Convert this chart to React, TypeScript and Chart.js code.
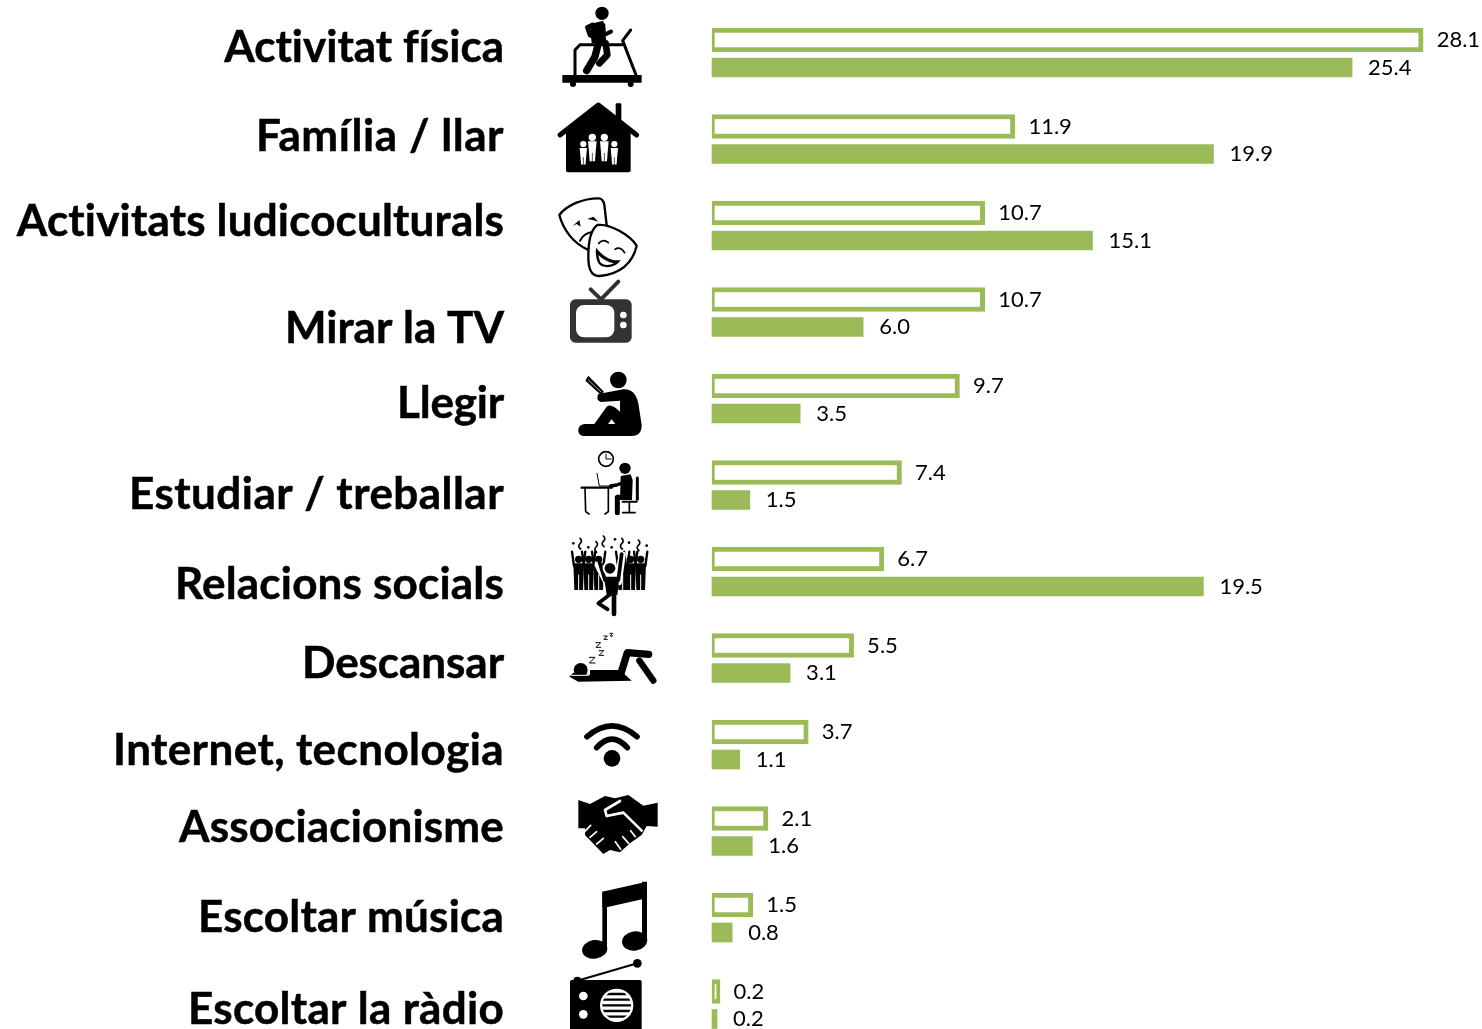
import React, { useEffect, useRef } from "react";
import { Chart, registerables } from "chart.js";

Chart.register(...registerables);

const categories = [
  "Activitat física", "Família / llar", "Activitats ludicoculturals", "Mirar la TV",
  "Llegir", "Estudiar / treballar", "Relacions socials", "Descansar",
  "Internet, tecnologia", "Associacionisme", "Escoltar música", "Escoltar la ràdio",
];
const outlinedValues = [28.1, 11.9, 10.7, 10.7, 9.7, 7.4, 6.7, 5.5, 3.7, 2.1, 1.5, 0.2];
const filledValues = [25.4, 19.9, 15.1, 6.0, 3.5, 1.5, 19.5, 3.1, 1.1, 1.6, 0.8, 0.2];
const GREEN = "#9BBB59";

// Layout of the left-hand text column (the labels do not sit exactly on their rows)
const labelShifts = [-4, -2, -3, 17, 6, 10, 14, 6, 7, -3, 1, 6];
const labelWidths = [280, 248, 488, 219, 107, 375, 329, 202, 391, 325, 306, 316];

type Ctx = CanvasRenderingContext2D;
type Pt = [number, number];

function poly(c: Ctx, pts: Pt[]) {
  c.beginPath();
  pts.forEach((p, i) => (i ? c.lineTo(p[0], p[1]) : c.moveTo(p[0], p[1])));
}
function line(c: Ctx, pts: Pt[], w: number, col = "#000") {
  poly(c, pts);
  c.lineWidth = w;
  c.strokeStyle = col;
  c.lineCap = "round";
  c.lineJoin = "round";
  c.stroke();
}
function fillPoly(c: Ctx, pts: Pt[], col = "#000") {
  poly(c, pts);
  c.closePath();
  c.fillStyle = col;
  c.fill();
}
function dot(c: Ctx, x: number, y: number, r: number, col = "#000") {
  c.beginPath();
  c.arc(x, y, r, 0, Math.PI * 2);
  c.fillStyle = col;
  c.fill();
}
function rrect(c: Ctx, x: number, y: number, w: number, h: number, r: number, col = "#000") {
  c.beginPath();
  c.roundRect(x, y, w, h, r);
  c.fillStyle = col;
  c.fill();
}

function treadmill(c: Ctx) {
  dot(c, 186, 40, 20);
  fillPoly(c, [[150, 72], [190, 62], [200, 130], [155, 130]]);
  line(c, [[158, 75], [142, 82], [150, 105], [175, 118]], 14);
  line(c, [[190, 75], [192, 105], [213, 95]], 12);
  line(c, [[175, 130], [165, 170], [140, 212]], 22);
  line(c, [[197, 130], [202, 165], [178, 190]], 20);
  line(c, [[105, 225], [105, 150], [120, 134], [245, 134]], 9);
  line(c, [[288, 225], [248, 122], [272, 90]], 9);
  rrect(c, 67, 225, 238, 23, 1);
  dot(c, 99, 252, 9);
  dot(c, 272, 252, 9);
}
function house(c: Ctx) {
  rrect(c, 227, 310, 17, 60, 3);
  fillPoly(c, [[80, 400], [175, 315], [270, 400]]);
  line(c, [[60, 405], [175, 315], [290, 405]], 15);
  rrect(c, 78, 385, 194, 132, 6);
  ([[130, 432, 0.85], [157, 412, 1], [193, 412, 1], [223, 432, 0.85]] as number[][]).forEach(([x, y, s]) => {
    dot(c, x, y, 11 * s, "#fff");
    fillPoly(c, [[x - 13 * s, y + 12], [x + 13 * s, y + 12], [x + 10 * s, y + 45 * s], [x + 8 * s, y + 72 * s], [x - 8 * s, y + 72 * s], [x - 10 * s, y + 45 * s]], "#fff");
    line(c, [[x, y + 48 * s], [x, y + 72 * s]], 2, "#000");
  });
}
function masks(c: Ctx) {
  c.lineJoin = "round";
  c.lineCap = "round";
  c.lineWidth = 7;
  c.strokeStyle = "#000";
  c.fillStyle = "#fff";
  c.beginPath();
  c.moveTo(58, 105);
  c.bezierCurveTo(80, 75, 130, 55, 175, 55);
  c.quadraticCurveTo(190, 55, 193, 75);
  c.lineTo(200, 135);
  c.lineTo(145, 210);
  c.bezierCurveTo(100, 190, 70, 150, 58, 105);
  c.closePath();
  c.fill();
  c.stroke();
  fillPoly(c, [[98, 138], [118, 120], [122, 140], [110, 132]]);
  fillPoly(c, [[142, 117], [160, 110], [175, 125], [158, 120]]);
  c.beginPath();
  c.moveTo(120, 182);
  c.quadraticCurveTo(135, 155, 162, 157);
  c.lineWidth = 6;
  c.stroke();
  c.beginPath();
  c.moveTo(172, 135);
  c.bezierCurveTo(210, 130, 270, 165, 290, 197);
  c.bezierCurveTo(280, 240, 250, 280, 180, 288);
  c.bezierCurveTo(150, 290, 145, 260, 145, 230);
  c.bezierCurveTo(145, 190, 150, 150, 172, 135);
  c.closePath();
  c.lineWidth = 7;
  c.fillStyle = "#fff";
  c.fill();
  c.stroke();
  c.lineWidth = 5;
  c.beginPath();
  c.moveTo(176, 190);
  c.quadraticCurveTo(190, 175, 205, 188);
  c.moveTo(225, 208);
  c.quadraticCurveTo(240, 198, 254, 218);
  c.stroke();
  c.beginPath();
  c.moveTo(168, 203);
  c.bezierCurveTo(190, 230, 215, 245, 242, 240);
  c.bezierCurveTo(230, 262, 190, 270, 175, 250);
  c.quadraticCurveTo(165, 230, 168, 203);
  c.closePath();
  c.fillStyle = "#000";
  c.fill();
  c.beginPath();
  c.moveTo(175, 225);
  c.quadraticCurveTo(195, 245, 222, 250);
  c.quadraticCurveTo(195, 262, 180, 245);
  c.closePath();
  c.fillStyle = "#fff";
  c.fill();
}
function tv(c: Ctx) {
  const col = "#333";
  line(c, [[152, 328], [183, 358], [235, 305]], 12, col);
  rrect(c, 90, 358, 185, 130, 16, col);
  rrect(c, 108, 375, 115, 97, 24, "#fff");
  dot(c, 250, 405, 10, "#fff");
  dot(c, 250, 435, 10, "#fff");
}
function reader(c: Ctx) {
  dot(c, 235, 60, 25);
  c.beginPath();
  c.moveTo(250, 88);
  c.quadraticCurveTo(285, 85, 295, 130);
  c.lineTo(305, 195);
  c.quadraticCurveTo(305, 228, 275, 228);
  c.lineTo(130, 228);
  c.quadraticCurveTo(113, 225, 115, 208);
  c.quadraticCurveTo(118, 193, 135, 192);
  c.lineTo(163, 192);
  c.lineTo(200, 140);
  c.quadraticCurveTo(212, 128, 240, 155);
  c.lineTo(240, 122);
  c.lineTo(182, 126);
  c.quadraticCurveTo(166, 118, 175, 102);
  c.closePath();
  c.fillStyle = "#000";
  c.fill();
  fillPoly(c, [[204, 192], [226, 192], [215, 178]], "#fff");
  fillPoly(c, [[136, 62], [145, 47], [192, 95], [183, 105]]);
  line(c, [[145, 60], [183, 96]], 2, "#fff");
}
function desk(c: Ctx) {
  c.beginPath();
  c.arc(198, 297, 22, 0, Math.PI * 2);
  c.lineWidth = 5;
  c.strokeStyle = "#000";
  c.stroke();
  line(c, [[198, 282], [198, 297], [214, 297]], 3);
  dot(c, 255, 325, 17);
  fillPoly(c, [[242, 348], [272, 343], [278, 360], [276, 420], [240, 420]]);
  line(c, [[268, 362], [230, 375], [212, 378]], 10);
  line(c, [[250, 412], [232, 412], [232, 458]], 15);
  line(c, [[292, 354], [292, 418]], 9);
  line(c, [[248, 425], [290, 425]], 6);
  line(c, [[268, 425], [268, 456]], 5);
  line(c, [[248, 458], [285, 458]], 5);
  line(c, [[125, 383], [215, 383]], 7);
  line(c, [[135, 385], [137, 455], [147, 462]], 5);
  line(c, [[205, 385], [205, 455], [195, 462]], 5);
  line(c, [[171, 340], [178, 378], [210, 378]], 3);
}
function crowd(c: Ctx) {
  [116, 146, 176, 248, 272, 302].forEach((x) => {
    dot(c, x, 88, 11);
    fillPoly(c, [[x - 16, 100], [x + 16, 100], [x + 13, 180], [x - 13, 180]]);
    line(c, [[x, 135], [x, 182]], 3, "#fff");
    line(c, [[x - 14, 108], [x - 20, 65]], 7);
    line(c, [[x + 14, 108], [x + 20, 65]], 7);
  });
  line(c, [[175, 105], [200, 155], [235, 155], [246, 75]], 22, "#fff");
  line(c, [[178, 95], [195, 150]], 11);
  line(c, [[245, 72], [235, 150]], 11);
  dot(c, 210, 115, 22, "#fff");
  dot(c, 210, 115, 16);
  fillPoly(c, [[192, 140], [238, 140], [232, 195], [200, 195]]);
  line(c, [[212, 192], [175, 220], [203, 238]], 11);
  line(c, [[222, 190], [222, 252]], 14);
  ([[120, 25], [168, 35], [190, 18], [245, 25], [295, 30]] as Pt[]).forEach(([x, y]) => {
    c.beginPath();
    c.moveTo(x, y);
    c.quadraticCurveTo(x + 9, y + 8, x, y + 16);
    c.quadraticCurveTo(x - 8, y + 24, x + 2, y + 32);
    c.lineWidth = 5;
    c.strokeStyle = "#000";
    c.stroke();
  });
  ([[100, 40], [145, 52], [215, 52], [225, 28], [267, 38], [320, 47]] as Pt[]).forEach(([x, y]) => dot(c, x, y, 4));
}
function sleeper(c: Ctx) {
  dot(c, 122, 420, 21);
  fillPoly(c, [[150, 420], [240, 420], [275, 452], [115, 455], [88, 440], [100, 428], [150, 435]]);
  line(c, [[95, 436], [145, 436]], 3, "#fff");
  line(c, [[240, 440], [262, 368], [326, 373]], 22);
  line(c, [[298, 392], [340, 452]], 19);
  const z = (x: number, y: number, s: number) =>
    line(c, [[x, y], [x + s, y], [x, y + s], [x + s, y + s]], 3);
  z(148, 382, 17);
  z(177, 362, 14);
  z(168, 338, 14);
  z(192, 318, 10);
  z(210, 310, 8);
}
function wifi(c: Ctx) {
  c.lineWidth = 17;
  c.lineCap = "round";
  c.strokeStyle = "#000";
  c.beginPath();
  c.moveTo(141, 110);
  c.quadraticCurveTo(216, 45, 291, 110);
  c.moveTo(170, 143);
  c.quadraticCurveTo(216, 92, 262, 143);
  c.stroke();
  dot(c, 216, 175, 25);
}
function handshake(c: Ctx) {
  fillPoly(c, [[115, 300], [150, 312], [195, 288], [225, 295], [265, 285], [310, 317], [353, 308], [353, 380], [320, 378], [305, 405], [270, 430], [240, 457], [210, 450], [190, 462], [135, 405], [135, 385], [115, 385]]);
  line(c, [[240, 303], [195, 330], [200, 348], [250, 338], [305, 392]], 8, "#fff");
  line(c, [[272, 392], [286, 410]], 5, "#fff");
  line(c, [[248, 410], [266, 430]], 5, "#fff");
  line(c, [[226, 425], [242, 448]], 5, "#fff");
  line(c, [[152, 376], [134, 395]], 5, "#fff");
  line(c, [[170, 395], [150, 412]], 5, "#fff");
  line(c, [[190, 415], [170, 432]], 5, "#fff");
}
function music(c: Ctx) {
  fillPoly(c, [[187, 65], [320, 35], [320, 85], [200, 112], [187, 112]]);
  rrect(c, 187, 65, 14, 170, 1);
  rrect(c, 306, 35, 15, 180, 1);
  c.fillStyle = "#000";
  c.beginPath();
  c.ellipse(164, 238, 38, 28, -0.15, 0, Math.PI * 2);
  c.fill();
  c.beginPath();
  c.ellipse(284, 213, 38, 29, -0.15, 0, Math.PI * 2);
  c.fill();
}
function radio(c: Ctx) {
  line(c, [[112, 332], [292, 280]], 6);
  dot(c, 292, 280, 13);
  dot(c, 112, 332, 12);
  rrect(c, 90, 330, 215, 160, 5);
  dot(c, 130, 378, 13, "#fff");
  dot(c, 130, 433, 13, "#fff");
  dot(c, 230, 406, 50, "#fff");
  c.save();
  c.beginPath();
  c.arc(230, 406, 43, 0, Math.PI * 2);
  c.clip();
  [372, 389, 406, 423, 440].forEach((y) => line(c, [[170, y], [290, y]], 7));
  c.restore();
}

const iconDrawers: [(c: Ctx) => void, number][] = [
  [treadmill, 0], [house, 0], [masks, 180], [tv, 180], [reader, 360], [desk, 360],
  [crowd, 530], [sleeper, 530], [wifi, 700], [handshake, 700], [music, 870], [radio, 870],
];

const decorations = {
  id: "decorations",
  afterDraw(chart: any) {
    const c: any = chart.ctx;
    const yScale = chart.scales.y;
    c.save();
    // category labels
    c.font = "bold 44px Lato";
    c.fillStyle = "#000";
    c.strokeStyle = "#000";
    c.lineWidth = 0.5;
    c.textAlign = "right";
    c.textBaseline = "middle";
    categories.forEach((name, i) => {
      c.letterSpacing = "0px";
      const extra = (labelWidths[i] - c.measureText(name).width) / name.length;
      c.letterSpacing = `${extra}px`;
      const y = yScale.getPixelForValue(i) + labelShifts[i];
      c.fillText(name, 504, y);
      c.strokeText(name, 504, y);
    });
    c.letterSpacing = "0px";
    // value labels
    c.font = "22px Lato";
    c.textAlign = "left";
    chart.data.datasets.forEach((ds: any, di: number) => {
      const meta = chart.getDatasetMeta(di);
      ds.data.forEach((v: number, i: number) => {
        c.fillText(v.toFixed(1), meta.data[i].x + (di === 0 ? 13.5 : 16), meta.data[i].y + 0.4);
      });
    });
    // pictograms
    iconDrawers.forEach(([draw, y0]) => {
      c.save();
      c.translate(540, y0);
      c.scale(1 / 3, 1 / 3);
      draw(c);
      c.restore();
    });
    c.restore();
  },
};

export default function App() {
  const ref = useRef<HTMLCanvasElement>(null);
  useEffect(() => {
    const chart = new Chart(ref.current!, {
      type: "bar",
      data: {
        labels: categories,
        datasets: [
          {
            label: "A",
            data: outlinedValues,
            xAxisID: "x2",
            base: -0.12,
            backgroundColor: "#fff",
            borderColor: GREEN,
            borderWidth: { top: 5, bottom: 5, left: 3, right: 5 },
            borderSkipped: false,
            barThickness: 24,
            clip: false,
          },
          {
            label: "B",
            data: filledValues,
            backgroundColor: GREEN,
            borderWidth: 0,
            barThickness: 31,
            maxBarThickness: 19,
            clip: false,
          },
        ],
      } as any,
      options: {
        indexAxis: "y",
        responsive: false,
        animation: false,
        layout: { padding: { left: 712, right: 14, top: 52, bottom: 25.5 } },
        plugins: { legend: { display: false }, tooltip: { enabled: false } },
        scales: {
          x: { display: false, min: 0, max: 30 },
          // the outline's stroke straddles the bar end, so its axis is nudged by half a stroke
          x2: { display: false, min: -0.12, max: 29.88 },
          y: { display: false, offset: false },
        },
      } as any,
      plugins: [decorations],
    });
    return () => chart.destroy();
  }, []);
  return (
    <div style={{ position: "fixed", inset: 0, background: "#fff", overflow: "hidden" }}>
      <canvas ref={ref} width={1482} height={1029} style={{ display: "block" }} />
    </div>
  );
}
